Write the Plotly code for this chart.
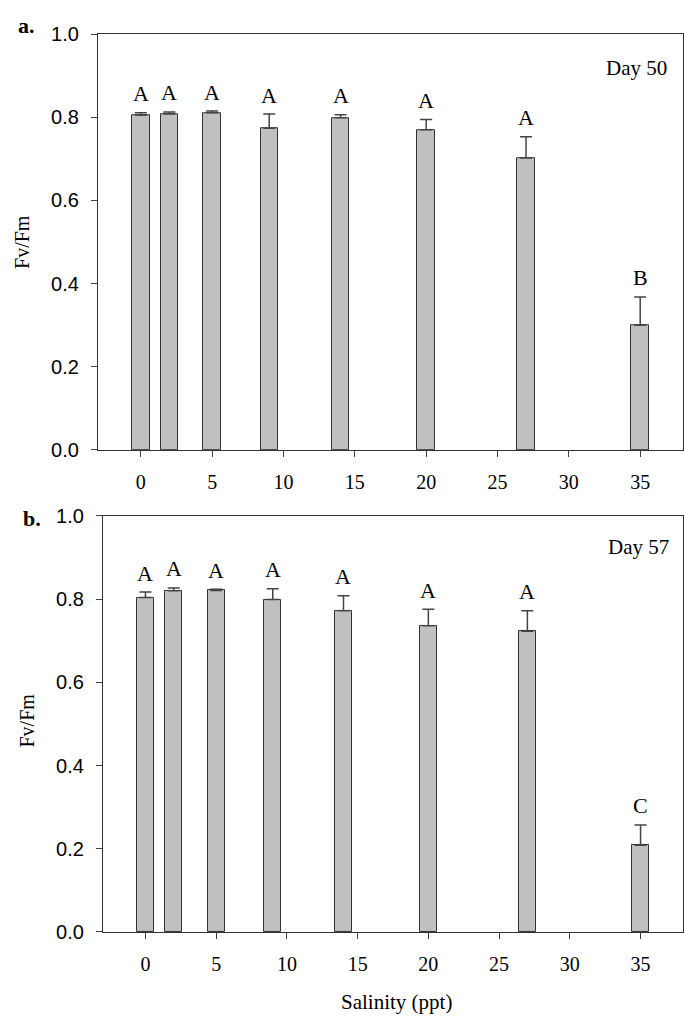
import plotly.graph_objects as go

salinity = [0, 2, 5, 9, 14, 20, 27, 35]
fvfm_day50 = [0.805, 0.808, 0.811, 0.774, 0.799, 0.770, 0.702, 0.300]
se_day50 = [0.006, 0.005, 0.004, 0.034, 0.007, 0.025, 0.051, 0.068]
letters_day50 = ["A", "A", "A", "A", "A", "A", "A", "B"]
fvfm_day57 = [0.804, 0.820, 0.821, 0.799, 0.772, 0.736, 0.723, 0.208]
se_day57 = [0.013, 0.007, 0.003, 0.026, 0.036, 0.040, 0.049, 0.049]
letters_day57 = ["A", "A", "A", "A", "A", "A", "A", "C"]
x_ticks = [0, 5, 10, 15, 20, 25, 30, 35]
y_ticks = [0.0, 0.2, 0.4, 0.6, 0.8, 1.0]

W, H = 684, 1029
SERIF = "Liberation Serif"
SANS = "Liberation Sans"

fig = go.Figure()

panels = [
    (fvfm_day50, se_day50, letters_day50, "x", "y"),
    (fvfm_day57, se_day57, letters_day57, "x2", "y2"),
]

for vals, se, letters, xa, ya in panels:
    fig.add_trace(go.Bar(
        x=salinity, y=vals, width=1.22,
        marker=dict(color="#c0c0c0", line=dict(color="#333333", width=1)),
        error_y=dict(type="data", symmetric=False, array=se,
                     arrayminus=[0] * len(se), color="#444444",
                     thickness=1.5, width=6),
        xaxis=xa, yaxis=ya, showlegend=False,
    ))
    for s, v, e, l in zip(salinity, vals, se, letters):
        fig.add_annotation(x=s, y=v + e, xref=xa, yref=ya, text=l,
                           showarrow=False, yanchor="middle", yshift=19,
                           font=dict(family=SERIF, size=22, color="black"))

def px_x(p):
    return p / W

def px_y(p):
    return 1 - p / H

axis_common = dict(showgrid=False, zeroline=False, showline=True,
                   linecolor="#333333", linewidth=1.2, mirror=True,
                   ticks="outside", ticklen=6, tickcolor="#444444")

fig.update_layout(
    width=W, height=H,
    margin=dict(l=0, r=0, t=0, b=0),
    plot_bgcolor="white", paper_bgcolor="white",
    bargap=0,
    xaxis=dict(domain=[px_x(98), px_x(683)], range=[-3, 38], anchor="y",
               tickvals=x_ticks, ticklabelstandoff=8,
               tickfont=dict(family=SERIF, size=20, color="black"), **axis_common),
    yaxis=dict(domain=[px_y(448.5), px_y(23.7)], range=[0, 1], anchor="x",
               tickvals=y_ticks, tickformat=".1f", ticklabelstandoff=8,
               tickfont=dict(family=SANS, size=20, color="black"), **axis_common),
    xaxis2=dict(domain=[px_x(103), px_x(683)], range=[-3, 38], anchor="y2",
                tickvals=x_ticks, ticklabelstandoff=8,
                tickfont=dict(family=SERIF, size=20, color="black"), **axis_common),
    yaxis2=dict(domain=[px_y(941), px_y(516)], range=[0, 1], anchor="x2",
                tickvals=y_ticks, tickformat=".1f", ticklabelstandoff=8,
                tickfont=dict(family=SANS, size=20, color="black"), **axis_common),
)

texts = [
    ("<b>a.</b>", 26, 15, 22, 0),
    ("<b>b.</b>", 32, 519, 22, 0),
    ("Day 50", 636, 58, 21, 0),
    ("Day 57", 638, 548, 21, 0),
    ("Fv/Fm", 22, 236, 20, -90),
    ("Fv/Fm", 27, 725, 20, -90),
    ("Salinity (ppt)", 396, 1013, 21, 0),
]
for t, xp, yp, fs, ang in texts:
    fig.add_annotation(x=px_x(xp), y=px_y(yp), xref="paper", yref="paper",
                       text=t, showarrow=False, xanchor="center", yanchor="middle",
                       textangle=ang, font=dict(family=SERIF, size=fs, color="black"))

fig.write_html("out.html")
